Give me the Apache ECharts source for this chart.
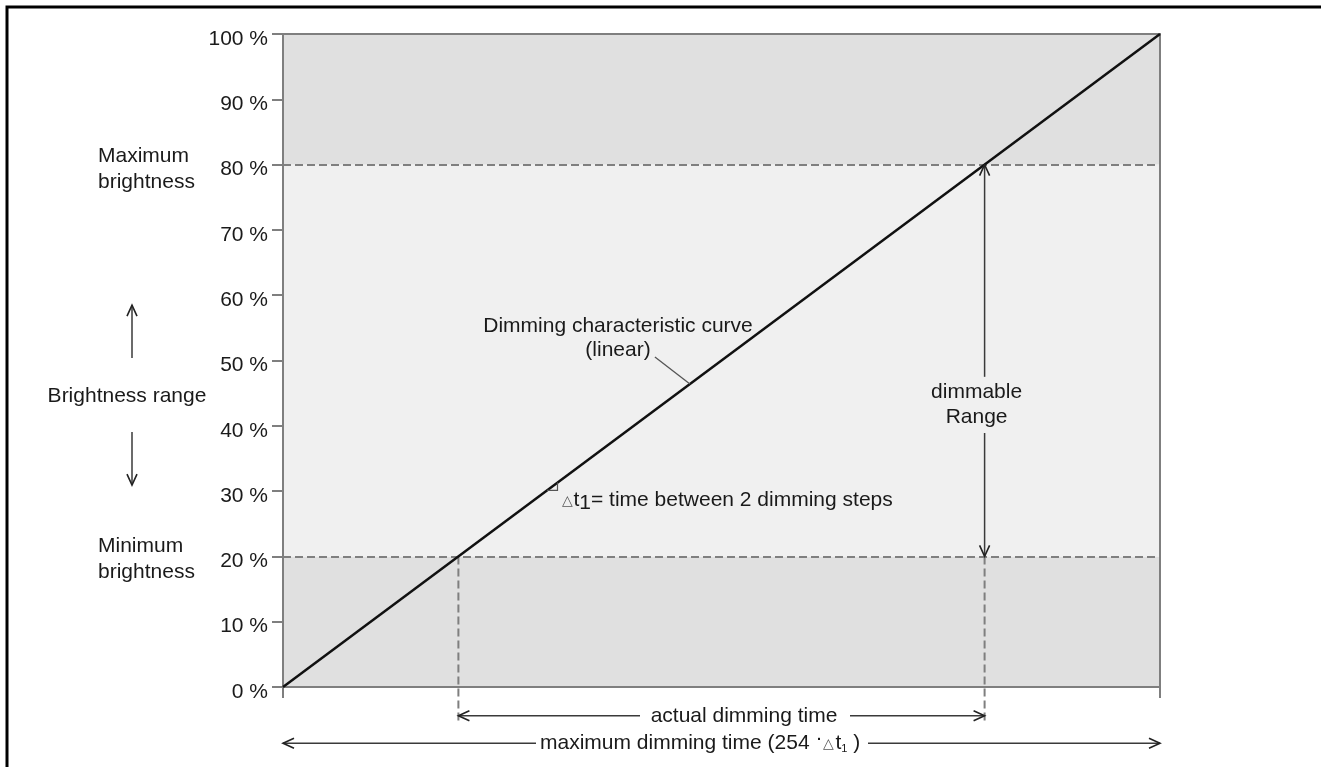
<!DOCTYPE html>
<html>
<head>
<meta charset="utf-8">
<script src="https://cdn.jsdelivr.net/npm/echarts@6/dist/echarts.min.js"></script>
<style>
html,body{margin:0;padding:0;background:#fff}
#chart{width:1321px;height:767px}
</style>
</head>
<body>
<div id="chart"></div>
<script>
// brightness (y, %) against dimming time (x, % of max time)
var curveX = [0, 100];
var curveY = [0, 100];
var minBright = 20;
var maxBright = 80;
var actualStart = 20;   // time where the curve reaches min brightness
var actualEnd = 80;     // time where the curve reaches max brightness
var stepX = [30.1, 31.3]; // one dimming step drawn as a small triangle
var belowAxis = [-4.4, -8.6]; // rows of the two time arrows under the axis
var dashEnd = -5.4;

var FONT = '"Liberation Sans", Arial, Helvetica, sans-serif';
var TXT = '#1a1a1a';
var GRAY = '#7f7f7f';
var ARW = '#3a3a3a';

var chart = echarts.init(document.getElementById('chart'));

var curveData = curveX.map(function (x, i) { return [x, curveY[i]]; });

var option = {
    animation: false,
    backgroundColor: '#fff',
    grid: {
        left: 283, right: 161, top: 34, bottom: 80,
        show: true, z: 3,
        backgroundColor: 'transparent',
        borderColor: GRAY, borderWidth: 2
    },
    xAxis: {
        type: 'value', min: 0, max: 100, interval: 100,
        axisLine: { lineStyle: { color: GRAY, width: 2 } },
        axisTick: { length: 11, lineStyle: { color: GRAY, width: 2 } },
        axisLabel: { show: false },
        splitLine: { show: false }
    },
    yAxis: {
        type: 'value', min: 0, max: 100, interval: 10,
        axisLine: { show: true, lineStyle: { color: GRAY, width: 2 } },
        axisTick: { show: true, length: 11, lineStyle: { color: GRAY, width: 2 } },
        axisLabel: {
            formatter: '{a|{value} %}', margin: 15,
            rich: { a: { color: TXT, fontSize: 21, fontFamily: FONT, padding: [10, 0, 0, 0] } }
        },
        splitLine: { show: false }
    },
    series: [
        {
            // shaded bands + dashed limits
            type: 'line', data: [], z: 1, silent: true,
            markArea: {
                silent: true,
                data: [
                    [{ yAxis: 0, itemStyle: { color: '#e0e0e0' } }, { yAxis: minBright }],
                    [{ yAxis: minBright, itemStyle: { color: '#f0f0f0' } }, { yAxis: maxBright }],
                    [{ yAxis: maxBright, itemStyle: { color: '#e0e0e0' } }, { yAxis: 100 }]
                ]
            },
            markLine: {
                silent: true, symbol: 'none', label: { show: false },
                lineStyle: { color: GRAY, width: 2, type: [8, 4] },
                data: [{ yAxis: minBright }, { yAxis: maxBright }]
            }
        },
        {
            type: 'line', z: 2, silent: true, clip: false, symbol: 'none',
            lineStyle: { color: GRAY, width: 2, type: [8, 4] },
            data: [[actualStart, minBright], [actualStart, dashEnd]]
        },
        {
            type: 'line', z: 2, silent: true, clip: false, symbol: 'none',
            lineStyle: { color: GRAY, width: 2, type: [8, 4] },
            data: [[actualEnd, minBright], [actualEnd, dashEnd]]
        },
        {
            name: 'Dimming characteristic curve', type: 'line', z: 5, symbol: 'none',
            lineStyle: { color: '#111', width: 2.5 },
            data: curveData
        }
    ]
};
chart.setOption(option);

function px(x, y) { return chart.convertToPixel({ gridIndex: 0 }, [x, y]); }

function line(a, b, color, w) {
    return { type: 'polyline', z: 10, shape: { points: [a, b] },
        style: { stroke: color || ARW, lineWidth: w || 1.5, fill: null } };
}
function head(tip, from) {
    var dx = tip[0] - from[0], dy = tip[1] - from[1];
    var d = Math.sqrt(dx * dx + dy * dy);
    var ux = dx / d, uy = dy / d, L = 11, H = 5;
    var bx = tip[0] - ux * L, by = tip[1] - uy * L;
    return { type: 'polyline', z: 10,
        shape: { points: [[bx - uy * H, by + ux * H], tip, [bx + uy * H, by - ux * H]] },
        style: { stroke: '#222', lineWidth: 1.6, fill: null } };
}
function text(x, y, str, align, extra) {
    var s = { text: str, x: x, y: y, fill: TXT, fontSize: 21, fontFamily: FONT,
        align: align || 'center', verticalAlign: 'middle' };
    for (var k in extra) s[k] = extra[k];
    return { type: 'text', z: 10, style: s };
}

var g = [];
// frame
g.push({ type: 'polyline', z: 20, shape: { points: [[7, 767], [7, 7], [1321, 7]] },
    style: { stroke: '#000', lineWidth: 3, fill: null } });

var p80 = px(0, maxBright), p20 = px(0, minBright);
g.push(text(98, p80[1] + 5, 'Maximum\nbrightness', 'left', { lineHeight: 26 }));
g.push(text(98, p20[1] + 3, 'Minimum\nbrightness', 'left', { lineHeight: 26 }));

// brightness range arrows on the left
var mid = px(0, 44.7)[1];
var ax = 132;
g.push(line([ax, mid - 37], [ax, mid - 90]));
g.push(head([ax, mid - 90], [ax, mid - 37]));
g.push(line([ax, mid + 37], [ax, mid + 90]));
g.push(head([ax, mid + 90], [ax, mid + 37]));
g.push(text(127, mid + 1, 'Brightness range'));

// curve label
var onCurve = px(46.4, 46.4);
g.push(line([onCurve[0] - 35, onCurve[1] - 27], onCurve, '#555', 1.3));
g.push(text(618, onCurve[1] - 46, 'Dimming characteristic curve\n(linear)', 'center', { lineHeight: 24 }));

// dimming step triangle
var s1 = px(stepX[0], stepX[0]), s2 = px(stepX[1], stepX[1]), sc = px(stepX[1], stepX[0]);
g.push({ type: 'polyline', z: 10, shape: { points: [s1, sc, s2] },
    style: { stroke: '#555', lineWidth: 1.2, fill: null } });
g.push(text(sc[0] + 4, sc[1] + 10, '{tri|△}{t|t}{sub|1}{t|= time between 2 dimming steps}', 'left', {
    rich: {
        tri: { fontSize: 14, fontFamily: FONT, fill: '#555', padding: [2, 1, 0, 0] },
        t: { fontSize: 21, fontFamily: FONT, fill: TXT },
        sub: { fontSize: 21, fontFamily: FONT, fill: TXT, padding: [5, 0, 0, 0] }
    }
}));

// dimmable range double arrow
var rTop = px(actualEnd, maxBright), rBot = px(actualEnd, minBright);
var gapTop = px(actualEnd, 47.5), gapBot = px(actualEnd, 38.9);
g.push(line(rTop, gapTop));
g.push(line(gapBot, rBot));
g.push(head(rTop, gapTop));
g.push(head(rBot, gapBot));
g.push(text(rTop[0] - 8, (gapTop[1] + gapBot[1]) / 2, 'dimmable\nRange', 'center', { lineHeight: 25 }));

// actual dimming time
var a1 = px(actualStart, belowAxis[0]), a2 = px(actualEnd, belowAxis[0]);
g.push(line(a1, [640, a1[1]]));
g.push(line([850, a2[1]], a2));
g.push(head(a1, [640, a1[1]]));
g.push(head(a2, [850, a2[1]]));
g.push(text(744, a1[1], 'actual dimming time'));

// maximum dimming time
var m1 = px(0, belowAxis[1]), m2 = px(100, belowAxis[1]);
g.push(line(m1, [536, m1[1]]));
g.push(line([868, m2[1]], m2));
g.push(head(m1, [536, m1[1]]));
g.push(head(m2, [868, m2[1]]));
g.push(text(540, m1[1], '{t|maximum dimming time (254 }{dot|·}{tri|△}{t|t}{sub|1}{t| )}', 'left', {
    rich: {
        t: { fontSize: 21, fontFamily: FONT, fill: TXT },
        dot: { fontSize: 21, fontFamily: FONT, fill: TXT, padding: [0, 0, 9, 0] },
        tri: { fontSize: 14, fontFamily: FONT, fill: '#555', padding: [2, 1, 0, 1] },
        sub: { fontSize: 11, fontFamily: FONT, fill: TXT, padding: [12, 0, 0, 0] }
    }
}));

chart.setOption({ graphic: g });
</script>
</body>
</html>
